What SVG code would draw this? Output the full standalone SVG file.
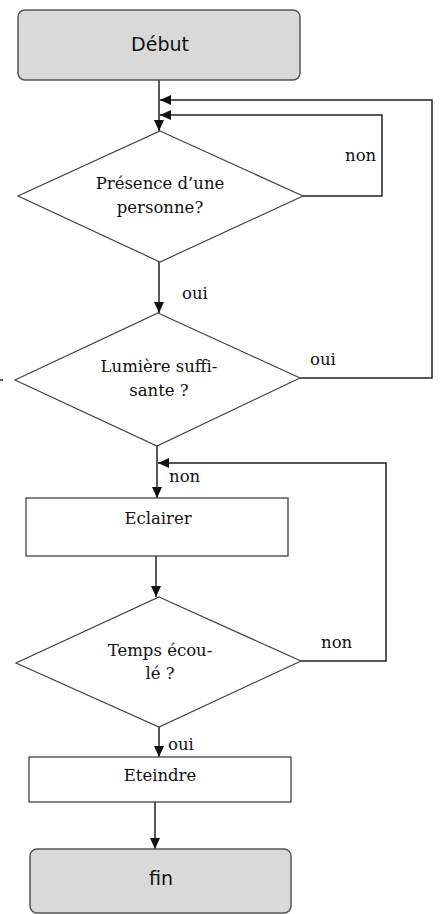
<svg xmlns="http://www.w3.org/2000/svg" width="441" height="914" viewBox="0 0 441 914">
<defs>
<marker id="arr" markerUnits="userSpaceOnUse" markerWidth="11" markerHeight="10" refX="11" refY="5" orient="auto">
<path d="M0 0 L11 5 L0 10 Z" fill="#111"/>
</marker>
<style>
.term{fill:#d9d9d9;stroke:#555;stroke-width:1.5}
.box{fill:#fff;stroke:#444;stroke-width:1.3}
.dec{fill:#fff;stroke:#444;stroke-width:1.2}
.tt{font-family:'DejaVu Sans',sans-serif;font-size:19px;fill:#111;text-anchor:middle}
.t{font-family:'DejaVu Serif',serif;font-size:16.5px;fill:#111;text-anchor:middle}
.lab{font-family:'DejaVu Serif',serif;font-size:16.5px;fill:#111}
.c{fill:none;stroke:#222;stroke-width:1.5;marker-end:url(#arr)}
.cn{fill:none;stroke:#222;stroke-width:1.5}
</style>
</defs>
<rect width="441" height="914" fill="#fff"/>
<g id="connectors">
<path class="c" d="M159 80 V131"/>
<path class="c" d="M303 196 H382 V115 H160"/>
<path class="c" d="M300 378 H432 V100 H160"/>
<path class="c" d="M159 262 V313"/>
<path class="c" d="M157 446 V498"/>
<path class="c" d="M301 661 H386 V463 H158"/>
<path class="c" d="M156 556 V597"/>
<path class="c" d="M159 727 V757"/>
<path class="c" d="M155 802 V849"/>
<path class="cn" d="M0 380 H3"/>
<text class="lab" x="345" y="161">non</text>
<text class="lab" x="182" y="299">oui</text>
<text class="lab" x="310" y="365">oui</text>
<text class="lab" x="169" y="482">non</text>
<text class="lab" x="321" y="648">non</text>
<text class="lab" x="168" y="750">oui</text>
</g>
<g id="debut">
<rect class="term" x="18" y="10" width="282" height="70" rx="7"/>
<text class="tt" x="160" y="51">Début</text>
</g>
<g id="presence">
<polygon class="dec" points="160,131 303,196 160,262 18,196"/>
<text class="t" x="160" y="189">Présence d’une</text>
<text class="t" x="160" y="213">personne?</text>
</g>
<g id="lumiere">
<polygon class="dec" points="158,313 300,378 157,446 15,380"/>
<text class="t" x="159" y="372">Lumière suffi-</text>
<text class="t" x="159" y="396">sante ?</text>
</g>
<g id="eclairer">
<rect class="box" x="26" y="498" width="262" height="58"/>
<text class="t" x="158" y="524">Eclairer</text>
</g>
<g id="temps">
<polygon class="dec" points="159,597 301,661 159,727 16,663"/>
<text class="t" x="160" y="656">Temps écou-</text>
<text class="t" x="160" y="679">lé ?</text>
</g>
<g id="eteindre">
<rect class="box" x="29" y="757" width="262" height="45"/>
<text class="t" x="160" y="781">Eteindre</text>
</g>
<g id="fin">
<rect class="term" x="30" y="849" width="261" height="64" rx="7"/>
<text class="tt" x="161" y="885">fin</text>
</g>
</svg>
